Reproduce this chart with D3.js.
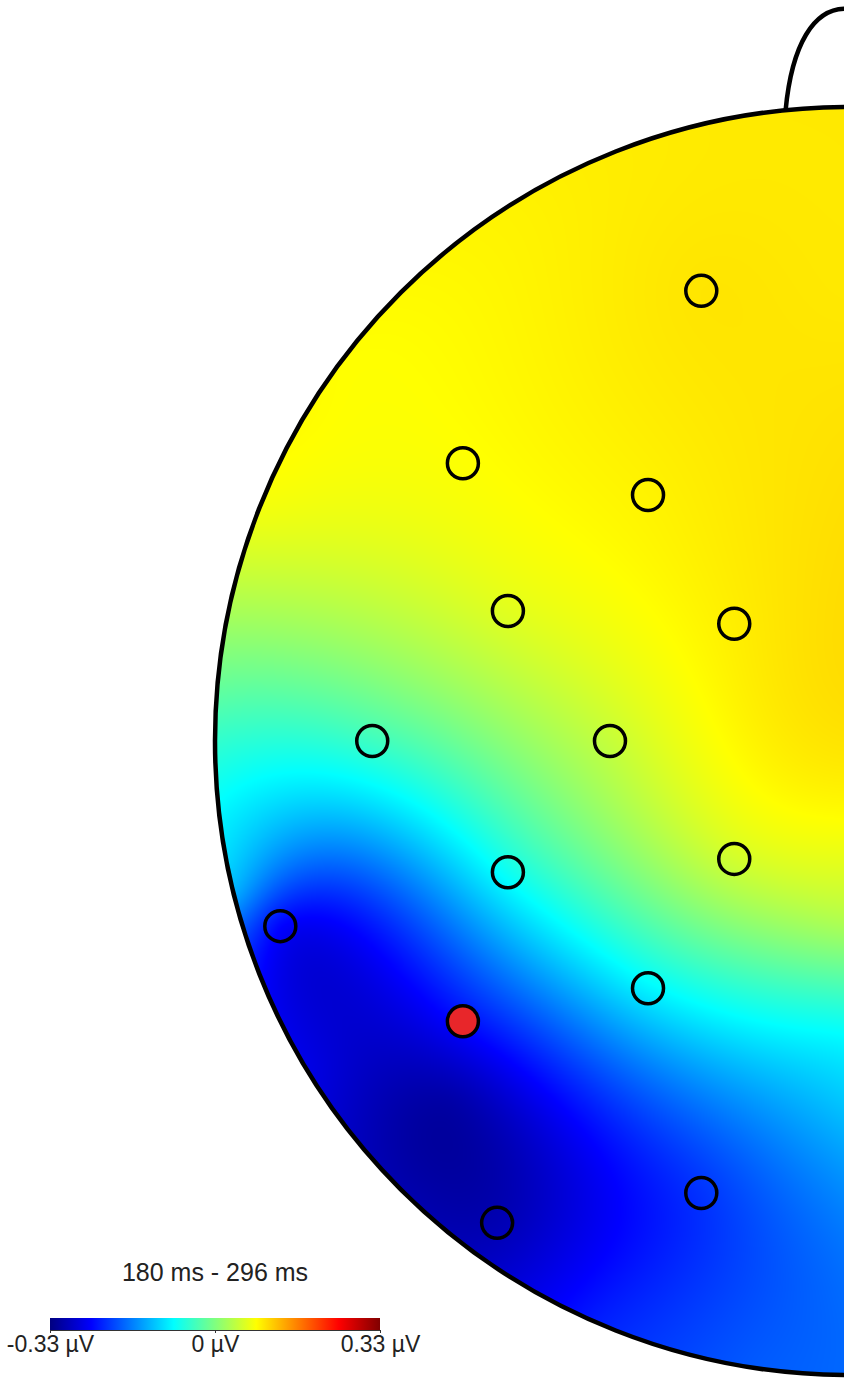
<!DOCTYPE html>
<html>
<head>
<meta charset="utf-8">
<script src="https://cdn.jsdelivr.net/npm/d3@7"></script>
<style>
  html, body { margin: 0; padding: 0; background: #fff; }
  svg { display: block; font-family: "Liberation Sans", Arial, sans-serif; }
</style>
</head>
<body>
<svg id="chart" width="851" height="1385"></svg>
<script>
// electrode positions in head units (head radius = 1, nose up), left hemisphere
const elecX = [-0.233, -0.609, -0.317, -0.538, -0.181, -0.752, -0.377, -0.538, -0.181, -0.897, -0.317, -0.609, -0.233, -0.555];
const elecY = [-0.710, -0.438, -0.388, -0.205, -0.185,  0.000,  0.000,  0.207,  0.186,  0.292,  0.390,  0.442,  0.713,  0.760];
const elecV = [ 0.099,  0.081,  0.090,  0.063,  0.093, -0.043,  0.045, -0.075,  0.053, -0.245, -0.089, -0.240, -0.215, -0.297];
const markedElectrode = 11;

// values read along the midline (right edge of the picture)
const midY = [-1.00, -0.70, -0.38, -0.22, 0.00, 0.208, 0.287, 0.366, 0.46, 0.577, 0.787, 0.945];
const midV = [0.097, 0.097, 0.103, 0.105, 0.100, 0.060, 0.030, -0.020, -0.080, -0.120, -0.170, -0.180];

// values read near the head edge and in the dark spot
const extraX = [-0.30, -0.55, -0.80, -0.93, -0.98, -1.00, -0.99, -0.97, -0.85, -0.68, -0.40, -0.15, -0.63];
const extraY = [-0.954, -0.835, -0.60, -0.37, -0.20, 0.00, 0.12, 0.24, 0.52, 0.73, 0.915, 0.985, 0.57];
const extraV = [0.095, 0.090, 0.083, 0.075, 0.025, -0.050, -0.090, -0.135, -0.265, -0.300, -0.230, -0.190, -0.305];

const vRange = [-0.33, 0.33];
const tickVals = [-0.33, 0, 0.33];
const tickLabels = ["-0.33 µV", "0 µV", "0.33 µV"];
const timeWindow = "180 ms - 296 ms";

// jet colormap
const jetStops = [0, 0.125, 0.375, 0.625, 0.875, 1];
const jetColors = ["#000080", "#0000ff", "#00ffff", "#ffff00", "#ff0000", "#800000"];

const width = 851, height = 1385,
      cx = 849, cy = 741, R = 634,
      clipRight = 844;

const svg = d3.select('#chart');

const x = d3.scaleLinear().domain([-1, 1]).range([cx - R, cx + R]),
      y = d3.scaleLinear().domain([-1, 1]).range([cy - R, cy + R]);

const color = d3.scaleLinear()
    .domain(jetStops.map(t => vRange[0] + t * (vRange[1] - vRange[0])))
    .range(jetColors)
    .clamp(true);

// thin plate spline through all known points
const px = elecX.concat(midY.map(() => 0), extraX),
      py = elecY.concat(midY, extraY),
      pv = elecV.concat(midV, extraV);

function U(r2) { return r2 > 0 ? 0.5 * r2 * Math.log(r2) : 0; }

function solve(A, b) {
    const n = b.length;
    for (let i = 0; i < n; i++) {
        let p = i;
        for (let k = i + 1; k < n; k++) if (Math.abs(A[k][i]) > Math.abs(A[p][i])) p = k;
        [A[i], A[p]] = [A[p], A[i]];
        [b[i], b[p]] = [b[p], b[i]];
        for (let k = i + 1; k < n; k++) {
            const f = A[k][i] / A[i][i];
            for (let j = i; j < n; j++) A[k][j] -= f * A[i][j];
            b[k] -= f * b[i];
        }
    }
    const out = new Array(n).fill(0);
    for (let i = n - 1; i >= 0; i--) {
        let s = b[i];
        for (let j = i + 1; j < n; j++) s -= A[i][j] * out[j];
        out[i] = s / A[i][i];
    }
    return out;
}

const n = px.length;
const A = d3.range(n + 3).map(() => new Array(n + 3).fill(0)),
      rhs = new Array(n + 3).fill(0);
for (let i = 0; i < n; i++) {
    for (let j = 0; j < n; j++) {
        const dx = px[i] - px[j], dy = py[i] - py[j];
        A[i][j] = U(dx * dx + dy * dy);
    }
    A[i][n] = A[n][i] = 1;
    A[i][n + 1] = A[n + 1][i] = px[i];
    A[i][n + 2] = A[n + 2][i] = py[i];
    rhs[i] = pv[i];
}
const w = solve(A, rhs);

function field(u, v) {
    let s = w[n] + w[n + 1] * u + w[n + 2] * v;
    for (let i = 0; i < n; i++) {
        const dx = u - px[i], dy = v - py[i];
        s += w[i] * U(dx * dx + dy * dy);
    }
    return s;
}

// paint the map on a canvas
const x0 = Math.floor(cx - R) - 2, y0 = Math.floor(cy - R) - 2,
      cw = clipRight - x0, ch = 2 * R + 4;
const canvas = document.createElement('canvas');
canvas.width = cw; canvas.height = ch;
const ctx = canvas.getContext('2d');
const img = ctx.createImageData(cw, ch);
for (let j = 0; j < ch; j++) {
    for (let i = 0; i < cw; i++) {
        const u = x.invert(x0 + i + 0.5), v = y.invert(y0 + j + 0.5);
        if (u * u + v * v > 1.01) continue;
        const c = d3.rgb(color(field(u, v)));
        const k = 4 * (j * cw + i);
        img.data[k] = c.r; img.data[k + 1] = c.g; img.data[k + 2] = c.b; img.data[k + 3] = 255;
    }
}
ctx.putImageData(img, 0, 0);

const defs = svg.append('defs');
defs.append('clipPath').attr('id', 'headClip')
    .append('circle').attr('cx', cx).attr('cy', cy).attr('r', R);
defs.append('clipPath').attr('id', 'sideClip')
    .append('rect').attr('x', 0).attr('y', 0).attr('width', clipRight).attr('height', height);

const head = svg.append('g').attr('clip-path', 'url(#sideClip)');

head.append('image')
    .attr('x', x0).attr('y', y0)
    .attr('width', cw).attr('height', ch)
    .attr('clip-path', 'url(#headClip)')
    .attr('href', canvas.toDataURL());

// head outline and nose
head.append('circle')
    .attr('cx', cx).attr('cy', cy).attr('r', R)
    .attr('fill', 'none').attr('stroke', '#000').attr('stroke-width', 4.5);

const nose = d3.path();
nose.moveTo(x(-0.1), y(-0.995));
nose.bezierCurveTo(x(-0.09), y(-1.10), x(-0.055), y(-1.155), x(-0.006), y(-1.155));
head.append('path').attr('d', nose.toString())
    .attr('fill', 'none').attr('stroke', '#000').attr('stroke-width', 4.5);

// electrodes
head.selectAll('.elec')
    .data(d3.range(elecX.length))
    .enter().append('circle')
    .attr('class', 'elec')
    .attr('cx', i => x(elecX[i]))
    .attr('cy', i => y(elecY[i]))
    .attr('r', 15.5)
    .attr('fill', i => i === markedElectrode ? '#e8262a' : 'none')
    .attr('stroke', '#000')
    .attr('stroke-width', 3.5);

// colour bar
const cb = d3.scaleLinear().domain(vRange).range([50, 380]);
const grad = defs.append('linearGradient').attr('id', 'jet')
    .attr('x1', '0%').attr('x2', '100%').attr('y1', '0%').attr('y2', '0%');
grad.selectAll('stop').data(jetStops).enter().append('stop')
    .attr('offset', d => (d * 100) + '%')
    .attr('stop-color', (d, i) => jetColors[i]);

svg.append('rect')
    .attr('x', cb.range()[0]).attr('y', 1318)
    .attr('width', cb.range()[1] - cb.range()[0]).attr('height', 12)
    .attr('fill', 'url(#jet)');

const axis = svg.append('g')
    .attr('transform', 'translate(0,1330)')
    .call(d3.axisBottom(cb).tickValues(tickVals).tickSize(3).tickPadding(3)
        .tickFormat((d, i) => tickLabels[i]));
axis.select('.domain').attr('stroke', '#333').attr('stroke-width', 1);
axis.selectAll('.tick line').attr('stroke', '#333');
axis.selectAll('.tick text')
    .attr('font-size', 23).attr('fill', '#222')
    .attr('font-family', '"Liberation Sans", Arial, sans-serif');

svg.append('text')
    .attr('x', cb(0)).attr('y', 1281)
    .attr('text-anchor', 'middle')
    .attr('font-size', 25).attr('fill', '#222')
    .text(timeWindow);
</script>
</body>
</html>
